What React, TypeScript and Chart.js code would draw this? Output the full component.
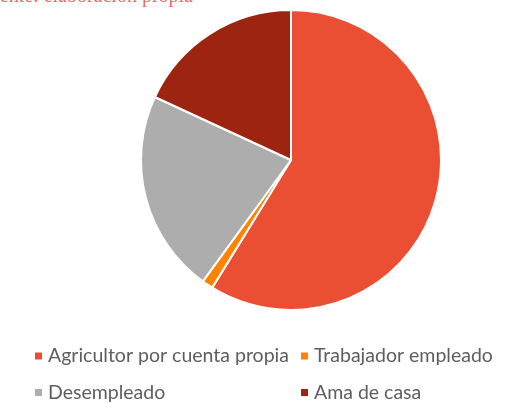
import React, { useEffect, useRef } from "react";
import { Chart, registerables } from "chart.js";

Chart.register(...registerables);

const categories = [
  "Agricultor por cuenta propia",
  "Trabajador empleado",
  "Desempleado",
  "Ama de casa",
];
const values = [58.8, 1.2, 21.9, 18.1];
const colors = ["#EB4F33", "#FF8200", "#ADADAD", "#9C2410"];
const sourceText = "Fuente: elaboración propia";

const legendPlugin = {
  id: "customLegend",
  afterDraw(chart: any) {
    const ctx = chart.ctx;
    ctx.save();
    // cut-off source note at the top
    ctx.font = "20px 'Liberation Serif', serif";
    ctx.fillStyle = "#F06868";
    ctx.textAlign = "right";
    ctx.textBaseline = "alphabetic";
    ctx.fillText(sourceText, 193, 1.5);

    const labels = chart.data.labels as string[];
    const bg = chart.data.datasets[0].backgroundColor as string[];
    const colX = [35, 301];
    const rowY = [356, 392.5];
    ctx.font = "19.5px Lato, 'Open Sans', sans-serif";
    ctx.textAlign = "left";
    ctx.textBaseline = "middle";
    labels.forEach((lab, i) => {
      const x = colX[i % 2];
      const y = rowY[Math.floor(i / 2)];
      ctx.fillStyle = bg[i];
      ctx.fillRect(x, y - 3.5, 7, 7);
      ctx.fillStyle = "#5E5E5E";
      ctx.fillText(lab, x + 13, y);
    });
    ctx.restore();
  },
};

export default function App() {
  const ref = useRef<HTMLCanvasElement>(null);
  useEffect(() => {
    document.body.style.margin = "0";
    const chart = new Chart(ref.current!, {
      type: "pie",
      data: {
        labels: categories,
        datasets: [
          {
            data: values,
            backgroundColor: colors,
            borderColor: "#FFFFFF",
            borderWidth: 2,
          },
        ],
      },
      options: {
        animation: false,
        responsive: false,
        radius: 150,
        layout: { padding: { left: 141, right: 76, top: 10, bottom: 93 } },
        plugins: {
          legend: { display: false },
          tooltip: { enabled: false },
        },
      } as any,
      plugins: [legendPlugin],
    });
    return () => chart.destroy();
  }, []);
  return <canvas ref={ref} width={517} height={403} style={{ display: "block" }} />;
}
